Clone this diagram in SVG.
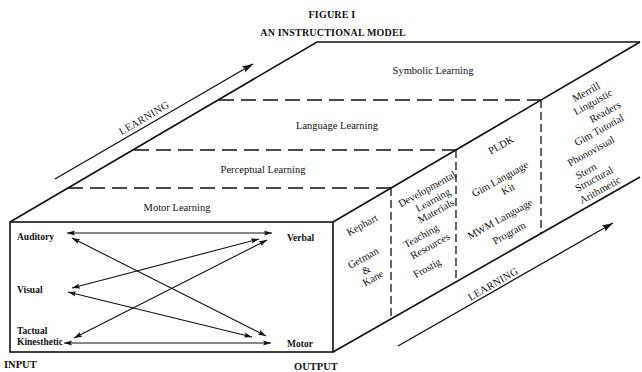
<svg xmlns="http://www.w3.org/2000/svg" width="642" height="372" viewBox="0 0 642 372">
  <style>
    .edge { fill: none; stroke: #111; stroke-width: 1.6; stroke-linejoin: miter; }
    .dash { fill: none; stroke: #111; stroke-width: 1.3; stroke-dasharray: 15 7; }
    .vdash { fill: none; stroke: #111; stroke-width: 1.3; stroke-dasharray: 8 4; }
    .link { fill: none; stroke: #111; stroke-width: 1.1; marker-start: url(#head); marker-end: url(#head); }
    .flow { fill: none; stroke: #111; stroke-width: 1.3; marker-end: url(#bighead); }
    text { font-family: "Liberation Serif", "Times New Roman", serif; fill: #111; }
    .title { font-size: 10px; font-weight: bold; text-anchor: middle; letter-spacing: 0.2px; }
    .level { font-size: 10.5px; text-anchor: middle; }
    .mode { font-size: 9.5px; font-weight: bold; }
    .io { font-size: 10.5px; font-weight: bold; }
    .prog { font-size: 10.5px; text-anchor: middle; }
    .axis { font-size: 10.5px; text-anchor: middle; letter-spacing: 0.3px; }
  </style>
  <defs>
    <marker id="head" markerUnits="userSpaceOnUse" markerWidth="9" markerHeight="6" refX="8" refY="3" orient="auto-start-reverse">
      <path d="M0,0.4 L8,3 L0,5.6 L1.5,3 z" fill="#111"/>
    </marker>
    <marker id="bighead" markerUnits="userSpaceOnUse" markerWidth="12" markerHeight="8" refX="11" refY="4" orient="auto">
      <path d="M0,0.6 L11,4 L0,7.4 L2,4 z" fill="#111"/>
    </marker>
  </defs>

  <rect width="642" height="372" fill="#fff"/>

  <g id="title">
    <text class="title" x="332" y="18">FIGURE I</text>
    <text class="title" x="333" y="36">AN INSTRUCTIONAL MODEL</text>
  </g>

  <!-- block outline: front face, top face, right face -->
  <g id="block">
    <rect class="edge" x="10" y="222" width="323" height="130"/>
    <polyline class="edge" points="10,222 317,42 640,42"/>
    <polyline class="edge" points="333,222 640,42"/>
    <polyline class="edge" points="333,352 640,177"/>
  </g>

  <!-- level boundaries on the top face and column boundaries on the right face -->
  <g id="dividers">
    <line class="dash" x1="219" y1="100" x2="541" y2="100"/>
    <line class="dash" x1="134" y1="150" x2="456" y2="150"/>
    <line class="dash" x1="68" y1="188" x2="391" y2="188"/>
    <line class="vdash" x1="391" y1="188" x2="391" y2="319"/>
    <line class="vdash" x1="456" y1="150" x2="456" y2="282"/>
    <line class="vdash" x1="541" y1="100" x2="541" y2="233"/>
  </g>

  <g id="levels">
    <text class="level" x="433" y="74">Symbolic Learning</text>
    <text class="level" x="337" y="129">Language Learning</text>
    <text class="level" x="263" y="173">Perceptual Learning</text>
    <text class="level" x="177" y="211">Motor Learning</text>
  </g>

  <g id="input-modes">
    <text class="mode" x="17" y="240">Auditory</text>
    <text class="mode" x="17" y="293">Visual</text>
    <text class="mode" x="17" y="334">Tactual</text>
    <text class="mode" x="17" y="345">Kinesthetic</text>
  </g>

  <g id="output-modes">
    <text class="mode" x="287" y="241">Verbal</text>
    <text class="mode" x="287" y="347">Motor</text>
  </g>

  <g id="io-labels">
    <text class="io" x="4" y="368">INPUT</text>
    <text class="io" x="294" y="370">OUTPUT</text>
  </g>

  <!-- input/output pathways -->
  <g id="connectors">
    <line class="link" x1="67" y1="233" x2="272" y2="233"/>
    <line class="link" x1="72" y1="238" x2="266" y2="336"/>
    <line class="link" x1="72" y1="288" x2="259" y2="239"/>
    <line class="link" x1="68" y1="292" x2="252" y2="337"/>
    <line class="link" x1="74" y1="338" x2="267" y2="240"/>
    <line class="link" x1="64" y1="343" x2="271" y2="343"/>
    <line class="flow" x1="55" y1="179" x2="253" y2="64"/>
    <line class="flow" x1="398" y1="346" x2="613" y2="223"/>
  </g>

  <g id="learning-axes">
    <text class="axis" transform="translate(144,118) rotate(-30.5)" y="3.5">LEARNING</text>
    <text class="axis" transform="translate(493,284) rotate(-30)" y="3.5">LEARNING</text>
  </g>

  <!-- programs listed on the right face, one column per level -->
  <g id="motor-programs">
    <text class="prog" transform="translate(362,225) rotate(-29)" y="3.5">Kephart</text>
    <text class="prog" transform="translate(363,258) rotate(-29)" y="3.5">Getman</text>
    <text class="prog" transform="translate(366,270) rotate(-29)" y="3.5">&amp;</text>
    <text class="prog" transform="translate(373,278) rotate(-29)" y="3.5">Kane</text>
  </g>
  <g id="perceptual-programs">
    <text class="prog" transform="translate(427,189) rotate(-29)" y="3.5">Developmental</text>
    <text class="prog" transform="translate(433,200) rotate(-29)" y="3.5">Learning</text>
    <text class="prog" transform="translate(436,211) rotate(-29)" y="3.5">Materials</text>
    <text class="prog" transform="translate(421,236) rotate(-29)" y="3.5">Teaching</text>
    <text class="prog" transform="translate(430,246) rotate(-29)" y="3.5">Resources</text>
    <text class="prog" transform="translate(427,268) rotate(-29)" y="3.5">Frostig</text>
  </g>
  <g id="language-programs">
    <text class="prog" transform="translate(501,145) rotate(-29)" y="3.5">PLDK</text>
    <text class="prog" transform="translate(500,179) rotate(-29)" y="3.5">Gim Language</text>
    <text class="prog" transform="translate(508,189) rotate(-29)" y="3.5">Kit</text>
    <text class="prog" transform="translate(500,219) rotate(-29)" y="3.5">MWM Language</text>
    <text class="prog" transform="translate(509,233) rotate(-29)" y="3.5">Program</text>
  </g>
  <g id="symbolic-programs">
    <text class="prog" transform="translate(586,92) rotate(-29)" y="3.5">Merrill</text>
    <text class="prog" transform="translate(593,102) rotate(-29)" y="3.5">Linguistic</text>
    <text class="prog" transform="translate(605,112) rotate(-29)" y="3.5">Readers</text>
    <text class="prog" transform="translate(599,130) rotate(-29)" y="3.5">Gim Tutorial</text>
    <text class="prog" transform="translate(591,151) rotate(-29)" y="3.5">Phonovisual</text>
    <text class="prog" transform="translate(586,171) rotate(-29)" y="3.5">Stern</text>
    <text class="prog" transform="translate(594,179) rotate(-29)" y="3.5">Structural</text>
    <text class="prog" transform="translate(600,190) rotate(-29)" y="3.5">Arithmetic</text>
  </g>
</svg>
